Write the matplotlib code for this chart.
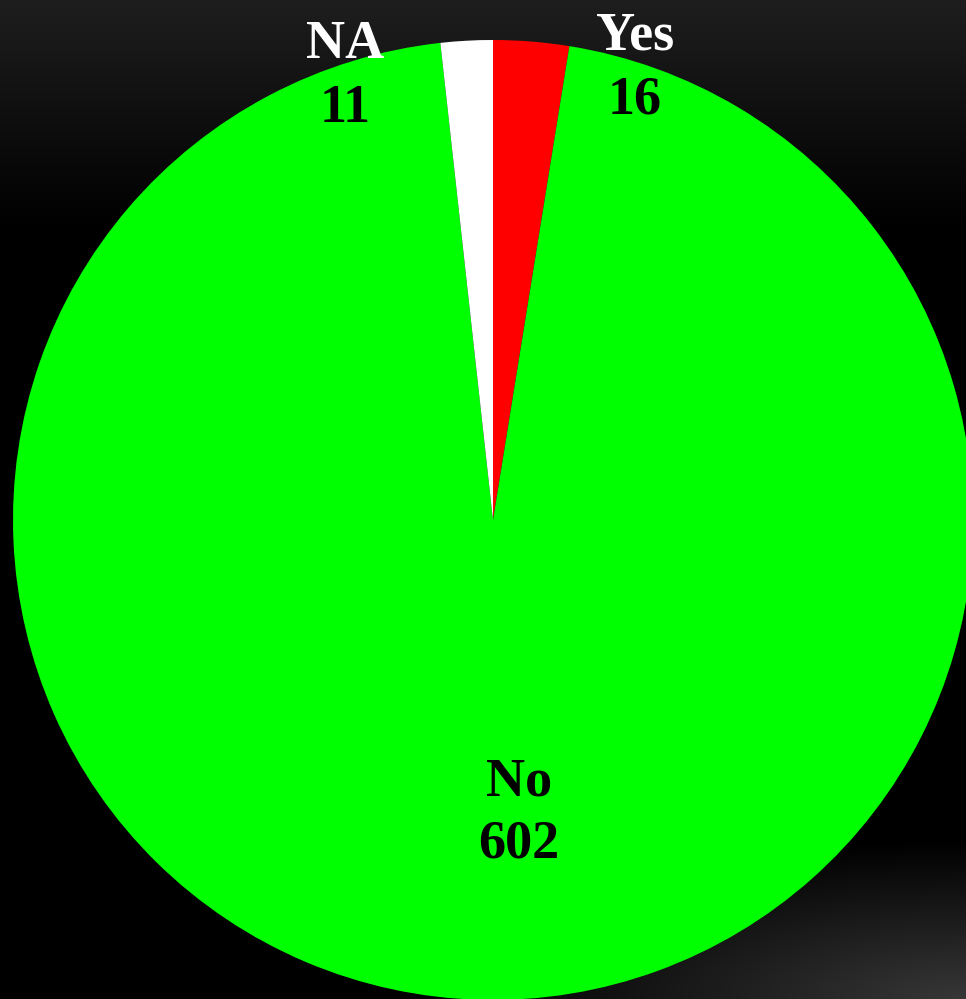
import numpy as np
import matplotlib
matplotlib.use("Agg")
import matplotlib.pyplot as plt

categories = ["Yes", "No", "NA"]
values = [16, 602, 11]
colors = ["#ff0000", "#00ff00", "#ffffff"]

W, H = 966, 999
fig = plt.figure(figsize=(W / 100, H / 100), dpi=100)

# background gradient
bg = fig.add_axes([0, 0, 1, 1])
yy, xx = np.mgrid[0:H, 0:W].astype(float)
top = 30 * np.clip(1 - yy / 230.0, 0, 1)
d = np.sqrt(((W - xx) / 520.0) ** 2 + ((H - yy) / 160.0) ** 2)
bot = 55 * np.clip(1 - d, 0, 1)
v = np.clip(top + bot, 0, 255) / 255.0
img = np.dstack([v, v, v])
bg.imshow(img, extent=[0, W, H, 0], aspect="auto")
bg.set_xlim(0, W)
bg.set_ylim(H, 0)
bg.axis("off")

# pie axes: centre (493,520) px, radius 480 px
cx, cy, r = 493, 520, 480
ax = fig.add_axes([(cx - r) / W, (H - cy - r) / H, 2 * r / W, 2 * r / H])
ax.set_facecolor("none")
ax.pie(values, colors=colors, startangle=90, counterclock=False,
       wedgeprops=dict(linewidth=0), radius=1)
ax.set_xlim(-1, 1)
ax.set_ylim(-1, 1)
ax.set_aspect("auto")
ax.axis("off")

font = dict(family="Liberation Serif", weight="bold", fontsize=39,
            ha="center", va="baseline")

def px(x, y):
    return ((x - cx) / r, (cy - y) / r)

# baseline positions (pixels)
label_pos = {"Yes": (635, 50, 635, 114), "No": (519, 795, 519, 858),
             "NA": (345, 58, 345, 122)}
name_col = {"Yes": "white", "No": "black", "NA": "white"}
for cat, val in zip(categories, values):
    x1, y1, x2, y2 = label_pos[cat]
    ax.text(*px(x1, y1), cat, color=name_col[cat], **font)
    ax.text(*px(x2, y2), str(val), color="black", **font)

fig.savefig("out.png", dpi=100)
